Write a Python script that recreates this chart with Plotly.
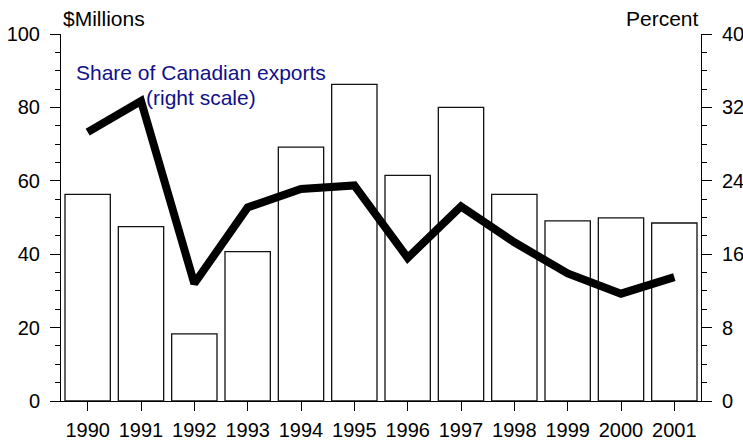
import plotly.graph_objects as go

years = ["1990", "1991", "1992", "1993", "1994", "1995", "1996", "1997", "1998", "1999", "2000", "2001"]
exports_millions = [56.3, 47.5, 18.3, 40.7, 69.2, 86.3, 61.5, 80.0, 56.3, 49.1, 49.9, 48.5]
share_percent = [29.3, 32.7, 12.8, 21.1, 23.1, 23.5, 15.6, 21.2, 17.3, 13.9, 11.7, 13.5]

left_title = "$Millions"
right_title = "Percent"
note_line1 = "Share of Canadian exports"
note_line2 = "(right scale)"

FONT = "Liberation Sans, Arial, sans-serif"
FS = 20
FS_TXT = 21

fig = go.Figure()
fig.add_trace(go.Bar(
    x=years, y=exports_millions, width=0.85,
    marker=dict(color="white", line=dict(color="#111", width=1.3)),
    yaxis="y", showlegend=False,
))
fig.add_trace(go.Scatter(
    x=years, y=share_percent, mode="lines",
    line=dict(color="black", width=8),
    yaxis="y2", showlegend=False,
))

axis_common = dict(
    showgrid=False, zeroline=False, showline=True, linecolor="black", linewidth=1,
    ticks="outside", ticklen=10, tickwidth=1, tickcolor="black",
    tickfont=dict(family=FONT, size=FS, color="black"),
    automargin=False,
)

fig.update_layout(
    template="none",
    width=743, height=443,
    margin=dict(l=61, r=42, t=34, b=42, autoexpand=False),
    plot_bgcolor="white", paper_bgcolor="white",
    bargap=0.15,
    xaxis=dict(
        type="category", range=[-0.5, 11.5],
        showgrid=False, zeroline=False, showline=True, linecolor="black", linewidth=1,
        ticks="outside", ticklen=9, tickwidth=1, tickcolor="black",
        tickfont=dict(family=FONT, size=FS, color="black"),
        ticklabelstandoff=2, automargin=False,
    ),
    yaxis=dict(
        range=[0, 100], dtick=20, tick0=0,
        minor=dict(dtick=5, ticks="outside", ticklen=5, tickcolor="black", tickwidth=1),
        ticklabelstandoff=6,
        **axis_common,
    ),
    yaxis2=dict(
        range=[0, 40], dtick=8, tick0=0, overlaying="y", side="right",
        minor=dict(dtick=2, ticks="outside", ticklen=5, tickcolor="black", tickwidth=1),
        ticklabelstandoff=6,
        **axis_common,
    ),
    annotations=[
        dict(text=left_title, xref="paper", yref="paper", x=0, y=1 + 15 / 367,
             xanchor="left", yanchor="middle", showarrow=False,
             font=dict(family=FONT, size=FS_TXT, color="black")),
        dict(text=right_title, xref="paper", yref="paper", x=1, y=1 + 15 / 367,
             xanchor="right", yanchor="middle", showarrow=False,
             font=dict(family=FONT, size=FS_TXT, color="black")),
        dict(text=note_line1, xref="x", yref="y", x=2.125, y=89.4,
             xanchor="center", yanchor="middle", showarrow=False,
             font=dict(family=FONT, size=FS_TXT, color="#10108a")),
        dict(text=note_line2, xref="x", yref="y", x=2.125, y=82.8,
             xanchor="center", yanchor="middle", showarrow=False,
             font=dict(family=FONT, size=FS_TXT, color="#10108a")),
    ],
)

fig.write_html(
    "out.html",
    config={"displayModeBar": False},
    post_script="document.body.style.margin='0';document.body.style.padding='0';",
)
